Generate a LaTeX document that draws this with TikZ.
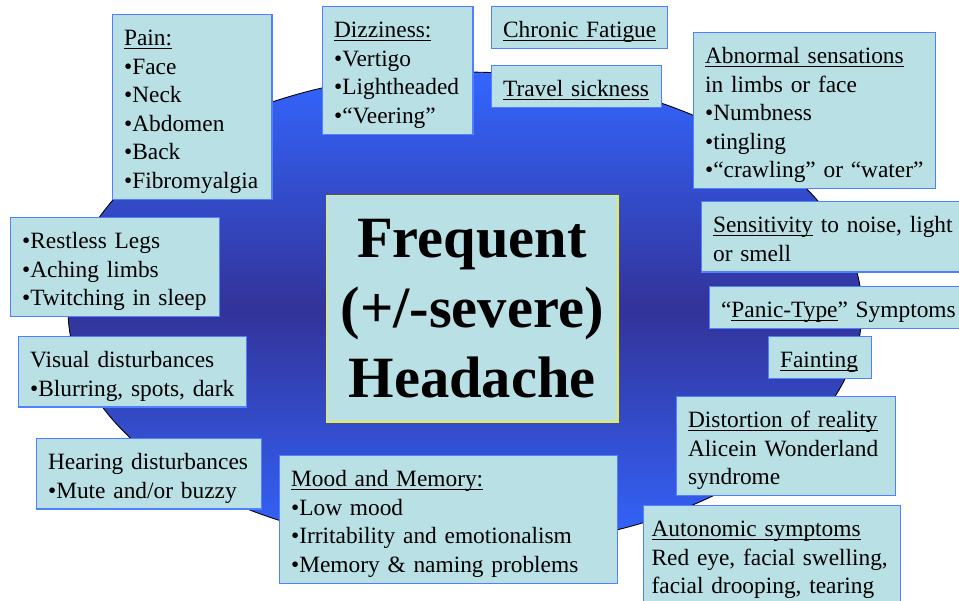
\documentclass[tikz,border=0pt]{standalone}
\usepackage{fontspec}
\setmainfont{Liberation Serif}
\definecolor{boxfill}{RGB}{185,224,228}
\definecolor{boxline}{RGB}{80,128,255}
\definecolor{ovaltop}{RGB}{51,102,255}
\definecolor{ovalmid}{RGB}{51,51,153}
\definecolor{midline}{RGB}{235,235,70}
\newsavebox{\ulbox}
\newcommand{\ulin}[1]{\sbox{\ulbox}{#1}\rlap{\rule[-1.9pt]{\wd\ulbox}{0.6pt}}\usebox{\ulbox}}
\tikzset{symptom/.style={draw=boxline, line width=0.7pt, fill=boxfill, anchor=north west, align=left,
    inner xsep=0.23cm, inner ysep=3pt, font=\fontsize{13.3}{16.27}\selectfont,
    execute at begin node={\rule{0pt}{14.6pt}},
    execute at end node={\rule[-3.2pt]{0pt}{3.2pt}}},
  headline/.style={draw=midline, line width=0.6pt, fill=boxfill, align=center,
    minimum width=5.84cm, minimum height=4.54cm, inner sep=0pt,
    font=\fontsize{33.3}{39.7}\selectfont\bfseries}}

\begin{document}
\begin{tikzpicture}[x=0.02cm,y=-0.02cm]
  \clip (0,0) rectangle (959,600);
  \draw[line width=0.5pt, top color=ovaltop, bottom color=ovaltop, middle color=ovalmid]
    (465,310) ellipse [x radius=7.94cm, y radius=4.76cm];
  \node[headline] (headache) at (472,308.5) {Frequent\\(+/-severe)\\Headache};
  \node[symptom, text width=2.73cm] (pain) at (112,14) {\ulin{Pain:}\\•Face\\•Neck\\•Abdomen\\•Back\\•Fibromyalgia};
  \node[symptom, text width=2.55cm] (dizzy) at (322,6) {\ulin{Dizziness:}\\•Vertigo\\•Lightheaded\\•“Veering”};
  \node[symptom, text width=3.06cm] (fatigue) at (491,6) {\ulin{Chronic Fatigue}};
  \node[symptom, text width=2.94cm] (travel) at (491,65) {\ulin{Travel sickness}};
  \node[symptom, text width=4.38cm] (abnormal) at (693,32) {\ulin{Abnormal sensations}\\in limbs or face\\•Numbness\\•tingling\\•“crawling” or “water”};
  \node[symptom, text width=3.72cm] (legs) at (10,217) {•Restless Legs\\•Aching limbs\\•Twitching in sleep};
  \node[symptom, text width=4.10cm] (visual) at (18,336) {Visual disturbances\\•Blurring, spots, dark};
  \node[symptom, text width=4.04cm] (hearing) at (36,438) {Hearing disturbances\\•Mute and/or buzzy};
  \node[symptom, text width=6.30cm] (mood) at (279,455) {\ulin{Mood and Memory:}\\•Low mood\\•Irritability and emotionalism\\•Memory \& naming problems};
  \node[symptom, text width=5.00cm] (sens) at (701,201) {\ulin{Sensitivity} to noise, light\\or smell};
  \node[symptom, text width=5.00cm] (panic) at (709,286) {“\ulin{Panic-Type}” Symptoms};
  \node[symptom, text width=1.60cm] (faint) at (768,336) {\ulin{Fainting}};
  \node[symptom, text width=3.92cm] (reality) at (676,396) {\ulin{Distortion of reality}\\Alicein Wonderland\\syndrome};
  \node[symptom, text width=4.82cm, inner xsep=0.16cm] (auto) at (643,505) {\ulin{Autonomic symptoms}\\Red eye, facial swelling,\\facial drooping, tearing};
\end{tikzpicture}
\end{document}
